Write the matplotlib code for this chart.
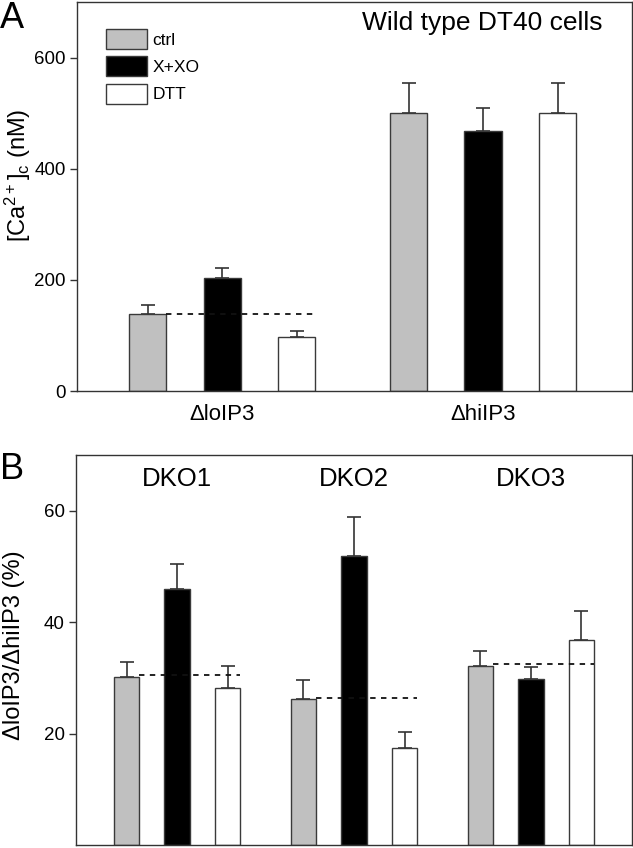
import numpy as np
import matplotlib
matplotlib.use("Agg")
import matplotlib.pyplot as plt

plt.rcParams['font.family'] = ['Liberation Sans', 'DejaVu Sans']
plt.rcParams['mathtext.fontset'] = 'custom'
plt.rcParams['mathtext.rm'] = 'Liberation Sans'
plt.rcParams['mathtext.it'] = 'Liberation Sans:italic'

# data, panel A (wild type DT40, nM)
groups_a = ["\u0394loIP3", "\u0394hiIP3"]
ctrl_a = [138, 500]
ctrl_a_err = [17, 55]
xxo_a = [203, 467]
xxo_a_err = [18, 42]
dtt_a = [97, 500]
dtt_a_err = [11, 54]
ref_line_a = [139]          # dashed ctrl level, drawn only for ΔloIP3

# data, panel B (DKO lines, %)
groups_b = ["DKO1", "DKO2", "DKO3"]
ctrl_b = [30.2, 26.2, 32.2]
ctrl_b_err = [2.7, 3.4, 2.7]
xxo_b = [46.0, 51.8, 29.8]
xxo_b_err = [4.4, 7.1, 2.1]
dtt_b = [28.2, 17.5, 36.8]
dtt_b_err = [3.9, 2.7, 5.2]
ref_line_b = [30.5, 26.4, 32.4]

conds = ["ctrl", "X+XO", "DTT"]
fills = ["#c0c0c0", "#000000", "#ffffff"]
edge = "#3a3a3a"
W = 0.5

fig = plt.figure(figsize=(6.33, 8.48), dpi=100)
axA = fig.add_axes([77/633, 1-391/848, 555/633, 389/848])
axB = fig.add_axes([76/633, 1-845/848, 556/633, 390/848])


def draw(ax, vals, errs, centers, refs):
    for k in range(3):
        x = centers + (k - 1)
        ax.bar(x, vals[k], W, color=fills[k], edgecolor=edge, linewidth=1,
               label=conds[k], zorder=2)
        ax.errorbar(x, vals[k], yerr=[np.zeros(len(x)), errs[k]], fmt="none",
                    ecolor="#333333", elinewidth=1.2, capsize=5, capthick=1.2,
                    zorder=1)
    # dashed ctrl reference line
    for c, v in zip(centers, refs):
        ax.plot([c - 1 + W/2, c + 1 + W/2], [v, v], ls=(0, (3, 3)),
                color="#111111", lw=1.3, zorder=3)
    for s in ax.spines.values():
        s.set_color("#333333")
        s.set_linewidth(1)
    ax.tick_params(axis="y", direction="out", length=5, width=1,
                   color="#333333", labelsize=13.5, pad=3)


# panel A
cA = np.array([1.0, 4.5])
draw(axA, [np.array(ctrl_a), np.array(xxo_a), np.array(dtt_a)],
     [np.array(ctrl_a_err), np.array(xxo_a_err), np.array(dtt_a_err)], cA,
     ref_line_a)
axA.set_xlim(-0.95, 6.5)
axA.set_ylim(0, 700)
axA.set_yticks([0, 200, 400, 600])
axA.set_xticks(cA)
axA.set_xticklabels(groups_a, fontsize=16)
axA.tick_params(axis="x", length=0, pad=9)
axA.set_ylabel(r"[Ca$^{\mathrm{2+}}$]$_{\mathrm{c}}$ (nM)", fontsize=17)
axA.yaxis.set_label_coords(-0.08, 0.555)
axA.text(0.731, 0.946, "Wild type DT40 cells", transform=axA.transAxes,
         ha="center", va="center", fontsize=19)
axA.legend(loc="upper left", bbox_to_anchor=(0.052, 0.931), frameon=False,
           fontsize=12.5, borderpad=0, borderaxespad=0, handlelength=2.35,
           handleheight=1.4, labelspacing=0.42, handletextpad=0.35)

# panel B
cB = np.array([1.0, 4.5, 8.0])
draw(axB, [np.array(ctrl_b), np.array(xxo_b), np.array(dtt_b)],
     [np.array(ctrl_b_err), np.array(xxo_b_err), np.array(dtt_b_err)], cB,
     ref_line_b)
axB.set_xlim(-1.0, 10.0)
axB.set_ylim(0, 70)
axB.set_yticks([20, 40, 60])
axB.set_xticks([])
axB.set_ylabel("\u0394loIP3/\u0394hiIP3 (%)", fontsize=17)
axB.yaxis.set_label_coords(-0.092, 0.513)
for c, g in zip(cB, groups_b):
    axB.text(c, 0.938, g, transform=axB.get_xaxis_transform(),
             ha="center", va="center", fontsize=18.5)

fig.text(0.0, 1 - 1/848, "A", fontsize=26, ha="left", va="top")
fig.text(0.0, 1 - 452/848, "B", fontsize=26, ha="left", va="top")

fig.savefig("out.png", dpi=100)
